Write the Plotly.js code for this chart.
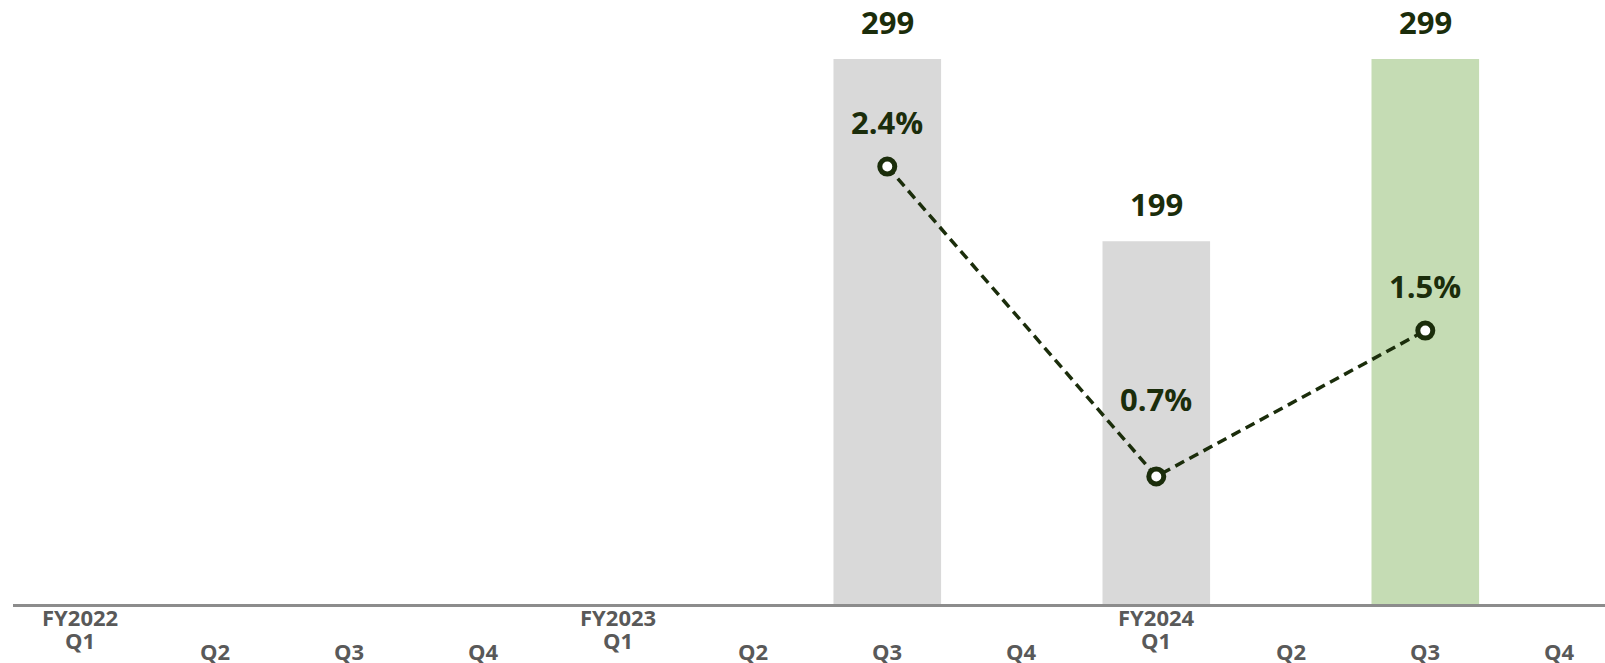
<!DOCTYPE html>
<html>
<head>
<meta charset="utf-8">
<script src="https://cdn.plot.ly/plotly-3.0.1.min.js"></script>
<style>
  html, body { margin: 0; padding: 0; background: #ffffff; }
  #chart { width: 1605px; height: 663px; }
</style>
</head>
<body>
<div id="chart"></div>
<script>
// ---- data ----
const categories = [
  'FY2022 Q1', 'FY2022 Q2', 'FY2022 Q3', 'FY2022 Q4',
  'FY2023 Q1', 'FY2023 Q2', 'FY2023 Q3', 'FY2023 Q4',
  'FY2024 Q1', 'FY2024 Q2', 'FY2024 Q3', 'FY2024 Q4'
];
const quarterLabels = ['Q1', 'Q2', 'Q3', 'Q4', 'Q1', 'Q2', 'Q3', 'Q4', 'Q1', 'Q2', 'Q3', 'Q4'];
const fiscalYearLabels = ['FY2022', '', '', '', 'FY2023', '', '', '', 'FY2024', '', '', ''];
const barValues = [null, null, null, null, null, null, 299, null, 199, null, 299, null];
const pctValues = [null, null, null, null, null, null, 2.4, null, 0.7, null, 1.5, null];

// ---- styles ----
const darkGreen = '#1b2d0b';
const grayBar = '#d9d9d9';
const greenBar = '#c5dcb4';
const highlightCategory = 'FY2024 Q3';
const barColors = categories.map(c => c === highlightCategory ? greenBar : grayBar);
const pctLabelShift = { 'FY2023 Q3': 45, 'FY2024 Q1': 77, 'FY2024 Q3': 45 };
const labelFont = { family: 'Open Sans', size: 31, color: darkGreen, weight: 700 };
const tickFont = { family: 'Open Sans', size: 22, color: '#595959', weight: 700 };

const barTrace = {
  type: 'bar',
  x: categories,
  y: barValues,
  marker: { color: barColors, line: { width: 0 } },
  hoverinfo: 'skip',
  yaxis: 'y',
  cliponaxis: false
};

const lineTrace = {
  type: 'scatter',
  mode: 'lines+markers',
  x: categories,
  y: pctValues,
  connectgaps: true,
  line: { color: darkGreen, width: 3.5, dash: '10px,6px' },
  marker: { size: 15, color: '#ffffff', line: { color: darkGreen, width: 5 } },
  yaxis: 'y2',
  hoverinfo: 'skip',
  cliponaxis: false
};

const annotations = [];
categories.forEach((c, i) => {
  if (barValues[i] !== null) {
    annotations.push({
      xref: 'x', yref: 'y', x: c, y: barValues[i],
      text: String(barValues[i]), showarrow: false,
      yanchor: 'middle', yshift: 37, font: labelFont
    });
  }
  if (pctValues[i] !== null) {
    annotations.push({
      xref: 'x', yref: 'y2', x: c, y: pctValues[i],
      text: pctValues[i].toFixed(1) + '%', showarrow: false,
      yanchor: 'middle', yshift: pctLabelShift[c], font: labelFont
    });
  }
  if (fiscalYearLabels[i]) {
    annotations.push({
      xref: 'x', yref: 'paper', x: c, y: 0,
      text: fiscalYearLabels[i], showarrow: false, borderpad: 0,
      yanchor: 'middle', yshift: -13, font: tickFont
    });
    annotations.push({
      xref: 'x', yref: 'paper', x: c, y: 0,
      text: quarterLabels[i], showarrow: false, borderpad: 0,
      yanchor: 'middle', yshift: -36, font: tickFont
    });
  } else {
    annotations.push({
      xref: 'x', yref: 'paper', x: c, y: 0,
      text: quarterLabels[i], showarrow: false, borderpad: 0,
      yanchor: 'middle', yshift: -47, font: tickFont
    });
  }
});

const layout = {
  width: 1605,
  height: 663,
  margin: { l: 13, r: 0, t: 0, b: 59, pad: 0 },
  paper_bgcolor: '#ffffff',
  plot_bgcolor: '#ffffff',
  showlegend: false,
  bargap: 0.2,
  xaxis: {
    type: 'category',
    range: [-0.5, 11.336],
    showline: true,
    linecolor: '#8c8c8c',
    linewidth: 3,
    showgrid: false,
    zeroline: false,
    ticks: '',
    showticklabels: false,
    fixedrange: true
  },
  yaxis: {
    range: [0, 331.4],
    visible: false,
    showgrid: false,
    zeroline: false,
    fixedrange: true
  },
  yaxis2: {
    range: [0, 3.314],
    overlaying: 'y',
    side: 'right',
    visible: false,
    showgrid: false,
    zeroline: false,
    fixedrange: true
  },
  annotations: annotations
};

Plotly.newPlot('chart', [barTrace, lineTrace], layout, { displayModeBar: false, staticPlot: true });
</script>
</body>
</html>
